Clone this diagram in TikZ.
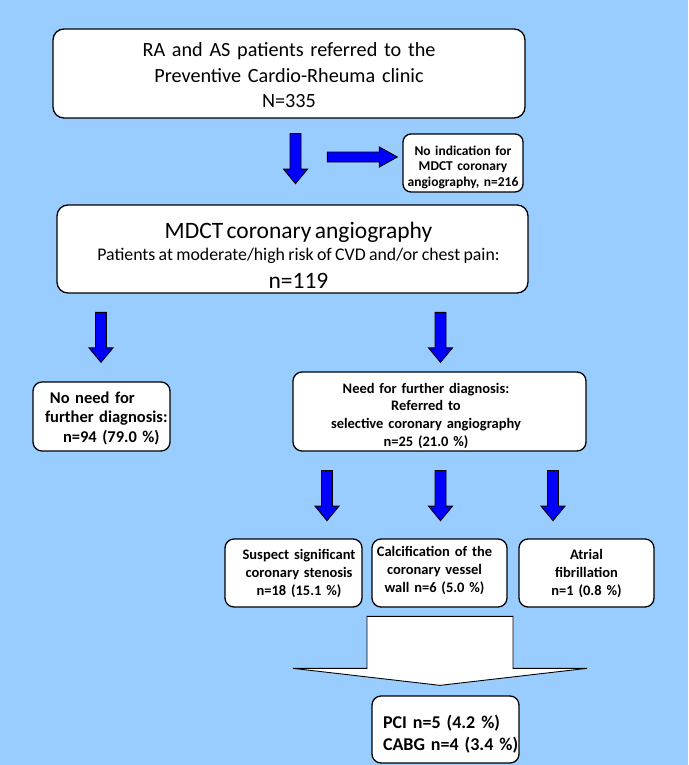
\documentclass[tikz,border=0pt]{standalone}
\usepackage{fontspec}
\setmainfont{Carlito}
\setlength{\parindent}{0pt}
\newcommand\topst[1]{\rule{0pt}{#1}}
\newcommand\botst[1]{\rule[-#1]{0pt}{0pt}}
\definecolor{bgblue}{HTML}{99CCFF}
\definecolor{arrblue}{HTML}{0000FF}
\tikzset{
  box/.style={draw=black, line width=1.3pt, fill=white, rounded corners=11pt, inner sep=0pt, align=center},
  smallbox/.style={box, rounded corners=9pt},
  blockarr/.style={fill=arrblue, draw=black, line width=0.9pt, line join=miter},
  downarr/.pic={\path[blockarr] (-5.5,0) -- (-5.5,35.5) -- (-12,35.5) -- (0,50) -- (12,35.5) -- (5.5,35.5) -- (5.5,0) -- cycle;},
  rightarr/.pic={\path[blockarr] (0,-5) -- (52,-5) -- (52,-10) -- (70,0) -- (52,10) -- (52,5) -- (0,5) -- cycle;},
  bigarr/.pic={\path[draw=black, fill=white, line width=0.9pt, line join=miter] (-73,-69) -- (73,-69) -- (73,-17) -- (147,-17) -- (0,0) -- (-147,-17) -- (-73,-17) -- cycle;},
}
\begin{document}
\begin{tikzpicture}[x=1pt,y=-1pt]
\fill[bgblue] (0,0) rectangle (688,765);
\useasboundingbox (0,0) rectangle (688,765);

\node[box, text width=472pt, minimum height=89pt, font=\fontsize{20.2}{25.25}\selectfont] (b1) at (289,73.5)
  {\topst{27.5pt}RA and AS patients referred to the\\Preventive Cardio-Rheuma clinic\\N=335\botst{10pt}};

\node[smallbox, rounded corners=8pt, text width=120pt, minimum height=58pt, font=\bfseries\fontsize{13.5}{15.85}\selectfont] (b1r) at (463,163)
  {\topst{20.7pt}No indication for\\MDCT coronary\\angiography, n=216\botst{5pt}};

\node[box, text width=471pt, minimum height=88pt] (b2) at (292.5,249)
  {{\fontsize{23.5}{24}\selectfont\hspace*{12pt}\topst{31.6pt}MDCT coronary angiography\par}%
   {\fontsize{17.8}{22.4}\selectfont\hspace*{12pt}Patients at moderate/high risk of CVD and/or chest pain:\par}%
   {\fontsize{23.5}{27.6}\selectfont\hspace*{12pt}n=119\botst{3pt}\par}};

\node[smallbox, align=left, text width=137pt, minimum height=69pt, font=\bfseries\fontsize{16.5}{19.5}\selectfont] (b3) at (101.5,416.5)
  {\topst{20.6pt}\hspace*{17pt}No need for\\\hspace*{12pt}further diagnosis:\\\hspace*{30pt}n=94 (79.0 \%)\botst{8pt}};

\node[smallbox, text width=293pt, minimum height=79pt, font=\bfseries\fontsize{14.5}{17.6}\selectfont] (b4) at (439.5,411.5)
  {\topst{20.6pt}\hspace*{-27pt}Need for further diagnosis:\\\hspace*{-27pt}Referred to\\\hspace*{-27pt}selective coronary angiography\\\hspace*{-27pt}n=25 (21.0 \%)\botst{4.2pt}};

\node[smallbox, text width=137pt, minimum height=68pt, font=\bfseries\fontsize{14.5}{18}\selectfont] (c1) at (293.5,573)
  {\topst{18pt}\hspace*{11pt}Suspect significant\\\hspace*{11pt}coronary stenosis\\\hspace*{11pt}n=18 (15.1 \%)\botst{10pt}};
\node[smallbox, text width=135pt, minimum height=68pt, font=\bfseries\fontsize{14.5}{18}\selectfont] (c2) at (439.5,573)
  {\topst{13.4pt}\hspace*{-10pt}Calcification of the\\\hspace*{-10pt}coronary vessel\\\hspace*{-10pt}wall n=6 (5.0 \%)\botst{10pt}};
\node[smallbox, text width=135pt, minimum height=68pt, font=\bfseries\fontsize{14.5}{18}\selectfont] (c3) at (586.5,573)
  {\topst{18pt}Atrial\\fibrillation\\n=1 (0.8 \%)\botst{10pt}};

\node[smallbox, align=left, text width=147pt, minimum height=67pt, font=\bfseries\fontsize{18}{21.7}\selectfont] (d) at (445.5,729.5)
  {\topst{29.3pt}\hspace*{11pt}PCI n=5 (4.2 \%)\\\hspace*{11pt}CABG n=4 (3.4 \%)\botst{10pt}};

% block arrows
\pic at ([xshift=6.5pt,yshift=-15pt]b1.south) {downarr};
\pic at ([xshift=-75pt,yshift=6pt]b1r.west) {rightarr};
\pic at ([xshift=-0.5pt,yshift=69pt]b3.north) {downarr};
\pic at ([xshift=1pt,yshift=59pt]b4.north) {downarr};
\pic at ([xshift=-112.5pt,yshift=-19pt]b4.south) {downarr};
\pic at ([xshift=1pt,yshift=-19pt]b4.south) {downarr};
\pic at ([xshift=113.5pt,yshift=-19pt]b4.south) {downarr};
\pic at ([xshift=-5.5pt,yshift=10pt]d.north) {bigarr};
\end{tikzpicture}
\end{document}
